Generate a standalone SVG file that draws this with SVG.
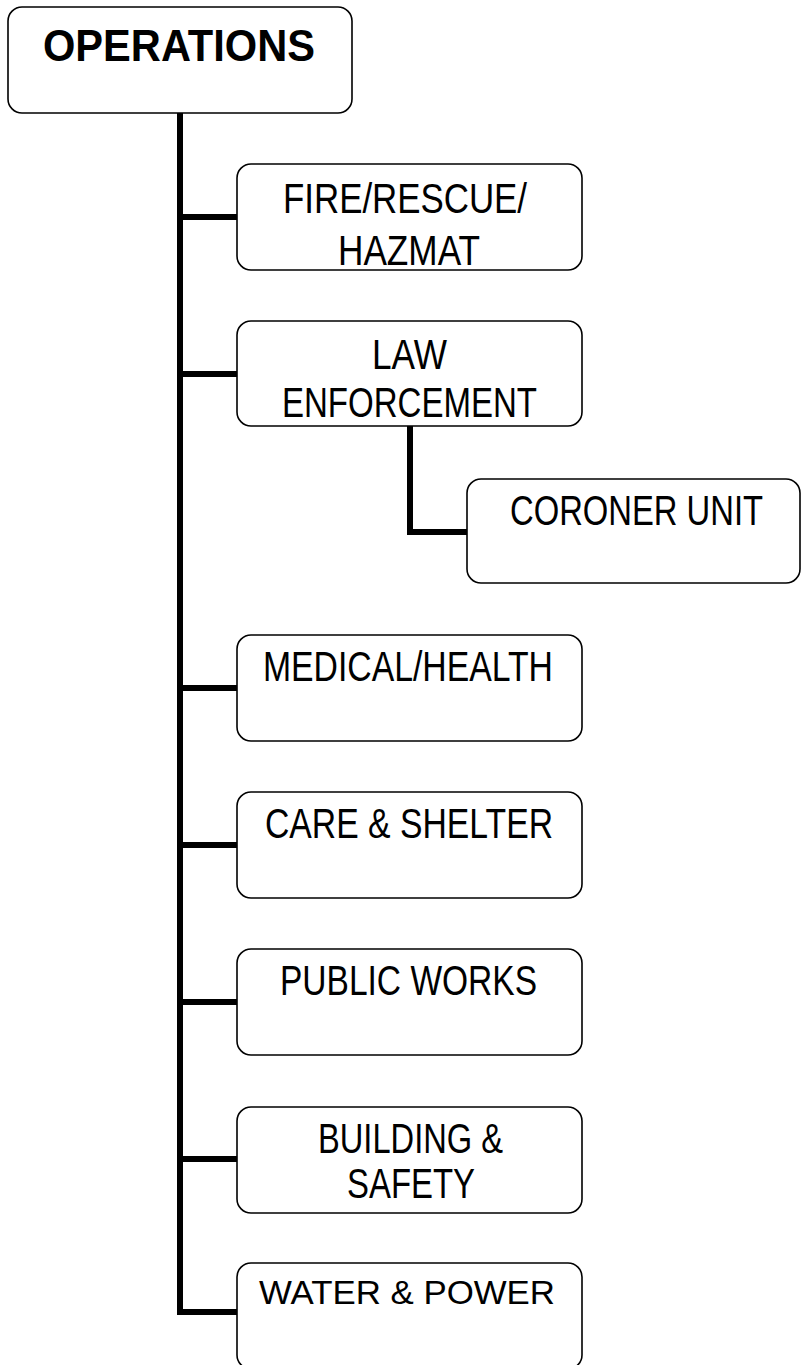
<svg xmlns="http://www.w3.org/2000/svg" width="801" height="1365" viewBox="0 0 801 1365">
  <style>
    .box { fill: #ffffff; stroke: #000000; stroke-width: 1.6; }
    .lbl { font-family: "Liberation Sans Narrow", "Liberation Sans", Arial, sans-serif; font-size: 42px; fill: #000000; }
    .title { font-family: "Liberation Sans Narrow", "Liberation Sans", Arial, sans-serif; font-size: 44px; font-weight: bold; fill: #000000; }
    .wide { font-family: "Liberation Sans", Arial, sans-serif; font-size: 33px; fill: #000000; }
    .wire { fill: none; stroke: #000000; stroke-width: 6; stroke-linejoin: miter; stroke-linecap: square; }
  </style>
  <rect width="801" height="1365" fill="#ffffff"/>

  <!-- connectors -->
  <g id="connectors">
    <path class="wire" d="M180,113 V1312 H237"/>
    <path class="wire" d="M180,217 H237"/>
    <path class="wire" d="M180,374 H237"/>
    <path class="wire" d="M180,688 H237"/>
    <path class="wire" d="M180,845 H237"/>
    <path class="wire" d="M180,1002 H237"/>
    <path class="wire" d="M180,1159 H237"/>
    <path class="wire" d="M410,426 V532 H467"/>
  </g>

  <g id="operations">
    <rect class="box" x="8" y="7" width="344" height="106" rx="14"/>
    <text class="title" x="43" y="61" textLength="272" lengthAdjust="spacingAndGlyphs">OPERATIONS</text>
  </g>

  <g id="fire-rescue-hazmat">
    <rect class="box" x="237" y="164" width="345" height="106" rx="14"/>
    <text class="lbl" x="283" y="213" textLength="244" lengthAdjust="spacingAndGlyphs">FIRE/RESCUE/</text>
    <text class="lbl" x="338" y="265" textLength="142" lengthAdjust="spacingAndGlyphs">HAZMAT</text>
  </g>

  <g id="law-enforcement">
    <rect class="box" x="237" y="321" width="345" height="105" rx="14"/>
    <text class="lbl" x="372" y="369" textLength="75" lengthAdjust="spacingAndGlyphs">LAW</text>
    <text class="lbl" x="282" y="417" textLength="255" lengthAdjust="spacingAndGlyphs">ENFORCEMENT</text>
  </g>

  <g id="coroner-unit">
    <rect class="box" x="467" y="479" width="333" height="104" rx="14"/>
    <text class="lbl" x="510" y="525" textLength="253" lengthAdjust="spacingAndGlyphs">CORONER UNIT</text>
  </g>

  <g id="medical-health">
    <rect class="box" x="237" y="635" width="345" height="106" rx="14"/>
    <text class="lbl" x="263" y="681" textLength="290" lengthAdjust="spacingAndGlyphs">MEDICAL/HEALTH</text>
  </g>

  <g id="care-shelter">
    <rect class="box" x="237" y="792" width="345" height="106" rx="14"/>
    <text class="lbl" x="265" y="838" textLength="288" lengthAdjust="spacingAndGlyphs">CARE &amp; SHELTER</text>
  </g>

  <g id="public-works">
    <rect class="box" x="237" y="949" width="345" height="106" rx="14"/>
    <text class="lbl" x="280" y="995" textLength="257" lengthAdjust="spacingAndGlyphs">PUBLIC WORKS</text>
  </g>

  <g id="building-safety">
    <rect class="box" x="237" y="1107" width="345" height="106" rx="14"/>
    <text class="lbl" x="318" y="1153" textLength="185" lengthAdjust="spacingAndGlyphs">BUILDING &amp;</text>
    <text class="lbl" x="347" y="1198" textLength="128" lengthAdjust="spacingAndGlyphs">SAFETY</text>
  </g>

  <g id="water-power">
    <rect class="box" x="237" y="1263" width="345" height="106" rx="14"/>
    <text class="wide" x="259" y="1304" textLength="296" lengthAdjust="spacingAndGlyphs">WATER &amp; POWER</text>
  </g>
</svg>
